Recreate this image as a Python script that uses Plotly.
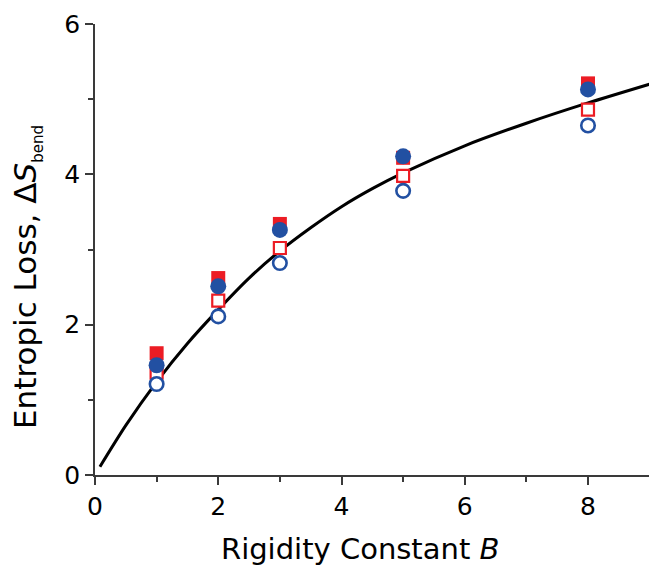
import plotly.graph_objects as go

# ---- data ----
B = [1, 2, 3, 5, 8]
filled_square = [1.62, 2.62, 3.34, 4.22, 5.21]
open_square = [1.36, 2.32, 3.02, 3.98, 4.86]
filled_circle = [1.46, 2.51, 3.26, 4.24, 5.13]
open_circle = [1.21, 2.11, 2.82, 3.78, 4.65]

fit_x = [0.08, 0.5, 1, 1.5, 2, 2.5, 3, 3.5, 4, 4.5, 5, 6, 7, 8, 9]
fit_y = [0.11, 0.66, 1.24, 1.75, 2.2, 2.62, 2.98, 3.29, 3.57, 3.81, 4.02, 4.38, 4.68, 4.95, 5.2]

x_ticks = [0, 2, 4, 6, 8]
y_ticks = [0, 2, 4, 6]

RED = "#ec1c24"
BLUE = "#2250a2"
AX = "#3a3a3a"
FONT = "DejaVu Sans, Arial, sans-serif"

fig = go.Figure()
fig.add_trace(go.Scatter(x=fit_x, y=fit_y, mode="lines",
                         line=dict(color="black", width=3, shape="spline", smoothing=0.8),
                         showlegend=False))
fig.add_trace(go.Scatter(x=B, y=filled_square, mode="markers",
                         marker=dict(symbol="square", size=14, color=RED,
                                     line=dict(width=0)), showlegend=False))
fig.add_trace(go.Scatter(x=B, y=open_square, mode="markers",
                         marker=dict(symbol="square", size=12, color="white",
                                     line=dict(width=2.2, color=RED)), showlegend=False))
fig.add_trace(go.Scatter(x=B, y=filled_circle, mode="markers",
                         marker=dict(symbol="circle", size=16, color=BLUE,
                                     line=dict(width=0)), showlegend=False))
fig.add_trace(go.Scatter(x=B, y=open_circle, mode="markers",
                         marker=dict(symbol="circle", size=13.5, color="white",
                                     line=dict(width=2.6, color=BLUE)), showlegend=False))

L, R, T, Bm = 95, 0, 24, 96
W, H = 649, 571
pw, ph = W - L - R, H - T - Bm

def px_to_paper_x(px):
    return (px - L) / pw

def px_to_paper_y(py):
    return (H - Bm - py) / ph

axis_common = dict(ticks="outside", ticklen=8, tickwidth=1.5, tickcolor=AX,
                   showline=True, linecolor=AX, linewidth=1.8, showgrid=False,
                   zeroline=False, tickfont=dict(size=25, family=FONT),
                   minor=dict(ticks="outside", ticklen=5, tickwidth=1.5,
                              tickcolor=AX, dtick=1, tick0=0, showgrid=False))

fig.update_layout(
    width=W, height=H,
    margin=dict(l=L, r=R, t=T, b=Bm),
    plot_bgcolor="white", paper_bgcolor="white",
    font=dict(family=FONT, size=25, color="black"),
    xaxis=dict(range=[0, 8.99], tickvals=x_ticks, **axis_common),
    yaxis=dict(range=[0, 6], tickvals=y_ticks, **axis_common),
    annotations=[
        dict(text="Rigidity Constant <i>B</i>", xref="paper", yref="paper",
             x=px_to_paper_x(360), y=px_to_paper_y(549), xanchor="center",
             yanchor="middle", showarrow=False, font=dict(size=29, family=FONT)),
        dict(text="Entropic Loss, Δ<i>S</i><sub><span style='font-size:15px'>bend</span></sub>",
             xref="paper", yref="paper",
             x=px_to_paper_x(27), y=px_to_paper_y(277), xanchor="center",
             yanchor="middle", textangle=-90, showarrow=False,
             font=dict(size=31, family=FONT)),
    ],
)

fig.write_html("out.html", config={"displayModeBar": False},
               post_script="document.body.style.margin='0';")
